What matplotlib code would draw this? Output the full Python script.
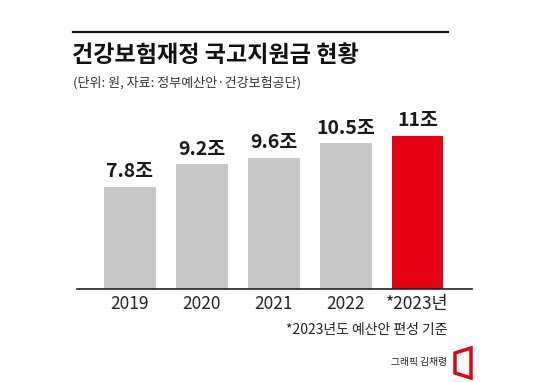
import matplotlib
matplotlib.use('Agg')
import matplotlib.pyplot as plt
from matplotlib.lines import Line2D
from matplotlib.patches import Polygon

years = ['2019', '2020', '2021', '2022', '*2023년']
values = [7.8, 9.2, 9.6, 10.5, 11]
labels = ['7.8조', '9.2조', '9.6조', '10.5조', '11조']
colors = ['#c8c8c8', '#c8c8c8', '#c8c8c8', '#c8c8c8', '#e60012']

title = '건강보험재정 국고지원금 현황'
subtitle = '(단위: 원, 자료: 정부예산안·건강보험공단)'
note = '*2023년도 예산안 편성 기준'
credit = '그래픽 김채령'

plt.rcParams['font.family'] = ['Noto Sans CJK KR', 'DejaVu Sans']

W, H = 550, 382
fig = plt.figure(figsize=(5.5, 3.82), dpi=100)
fig.patch.set_facecolor('white')

def px(x, y):
    # pixel coords from top-left -> figure fraction
    return x / W, (H - y) / H

# axes placed in pixels
left, right, bottom, top = 77, 472, 288.5, 110
ax = fig.add_axes([left / W, (H - bottom) / H, (right - left) / W, (bottom - top) / H])

xs = range(len(values))
bars = ax.bar(xs, values, width=0.72, color=colors, zorder=2)
ax.set_xlim(-0.736, 4.757)
ax.set_ylim(1.4, 12.6)

for b, lab in zip(bars, labels):
    ax.annotate(lab, (b.get_x() + b.get_width() / 2, b.get_height()),
                xytext=(0, 4), textcoords='offset points',
                ha='center', va='bottom', fontsize=14, fontweight='bold',
                color='#1a1a1a')

ax.set_xticks(list(xs))
ax.set_xticklabels(years, fontsize=12.5, color='#222222')
ax.tick_params(axis='x', length=0, pad=5)
ax.set_yticks([])
for s in ['top', 'right', 'left']:
    ax.spines[s].set_visible(False)
ax.spines['bottom'].set_color('#222222')
ax.spines['bottom'].set_linewidth(1.2)
ax.set_facecolor('none')

# top rule
x0, y0 = px(73, 32)
x1, _ = px(448, 32)
fig.add_artist(Line2D([x0, x1], [y0, y0], color='#111111', linewidth=1.6))

tx, ty = px(72, 55)
fig.text(tx, ty, title, fontsize=16.6, fontweight='bold', color='#111111',
         ha='left', va='center')
sx, sy = px(73, 83)
fig.text(sx, sy, subtitle, fontsize=9.4, color='#333333', ha='left', va='center')

nx, ny = px(448, 330)
fig.text(nx, ny, note, fontsize=10, color='#222222', ha='right', va='center')
cx, cy = px(447, 362)
fig.text(cx, cy, credit, fontsize=7, color='#222222', ha='right', va='center')

# red logo mark
pts = [px(455, 353), px(471, 348), px(471, 378), px(455, 373)]
fig.add_artist(Polygon(pts, closed=True, fill=False, edgecolor='#e60012',
                       linewidth=2.5, joinstyle='miter'))

fig.savefig('out.png', dpi=100, facecolor='white')
